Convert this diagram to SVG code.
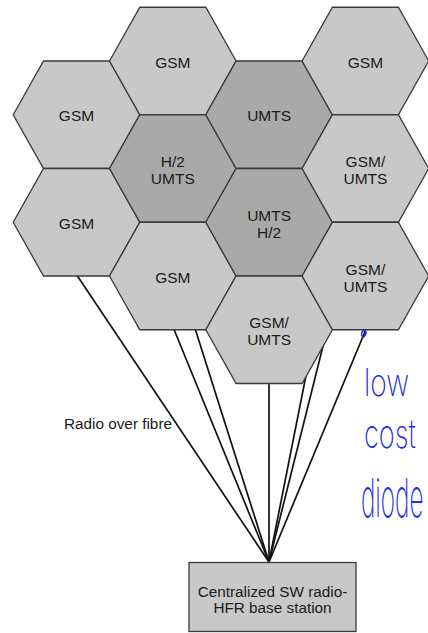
<svg xmlns="http://www.w3.org/2000/svg" xmlns:xlink="http://www.w3.org/1999/xlink" width="428" height="633" viewBox="0 0 428 633">
<style>
.hex{stroke:#3a3a3a;stroke-width:1.3;stroke-linejoin:miter}
.lt{fill:#c8c8c8}
.dk{fill:#a9a9a9}
.lbl{font-family:"Liberation Sans",Arial,sans-serif;font-size:15.5px;fill:#1a1a1a;text-anchor:middle}
.conn line{stroke:#111;stroke-width:1.7}
.box{fill:#c8c8c8;stroke:#3a3a3a;stroke-width:1.3}
.btxt{font-family:"Liberation Sans",Arial,sans-serif;font-size:15.3px;fill:#1a1a1a;text-anchor:middle}
.note{font-family:Inter,"DejaVu Sans",sans-serif;font-weight:200;fill:#1e2ee6}
</style>
<defs>
<polygon id="hexshape" points="-63.3,0 -33,-53.75 33,-53.75 63.3,0 33,53.75 -33,53.75"/>
</defs>
<rect width="428" height="633" fill="#fff"/>
<g id="connectors" class="conn">
<line x1="60" y1="250" x2="269" y2="562"/>
<line x1="162" y1="300" x2="269" y2="562"/>
<line x1="186" y1="300" x2="269" y2="562"/>
<line x1="269" y1="300" x2="269" y2="562"/>
<line x1="317" y1="320" x2="269" y2="562"/>
<line x1="325.75" y1="335" x2="269" y2="562"/>
<line x1="374" y1="310" x2="269" y2="562"/>
</g>
<g id="hex-c0r0"><use href="#hexshape" class="hex lt" x="76.5" y="114.75"/><text class="lbl" x="76.5" y="121.25">GSM</text></g>
<g id="hex-c0r1"><use href="#hexshape" class="hex lt" x="76.5" y="222.25"/><text class="lbl" x="76.5" y="228.75">GSM</text></g>
<g id="hex-c1r0"><use href="#hexshape" class="hex lt" x="172.8" y="61"/><text class="lbl" x="172.8" y="67.5">GSM</text></g>
<g id="hex-c1r1"><use href="#hexshape" class="hex dk" x="172.8" y="168.5"/><text class="lbl" x="172.8" y="167">H/2</text><text class="lbl" x="172.8" y="184">UMTS</text></g>
<g id="hex-c1r2"><use href="#hexshape" class="hex lt" x="172.8" y="276"/><text class="lbl" x="172.8" y="282.5">GSM</text></g>
<g id="hex-c2r0"><use href="#hexshape" class="hex dk" x="269.1" y="114.75"/><text class="lbl" x="269.1" y="121.25">UMTS</text></g>
<g id="hex-c2r1"><use href="#hexshape" class="hex dk" x="269.1" y="222.25"/><text class="lbl" x="269.1" y="220.5">UMTS</text><text class="lbl" x="269.1" y="237.5">H/2</text></g>
<g id="hex-c2r2"><use href="#hexshape" class="hex lt" x="269.1" y="329.75"/><text class="lbl" x="269.1" y="328">GSM/</text><text class="lbl" x="269.1" y="345">UMTS</text></g>
<g id="hex-c3r0"><use href="#hexshape" class="hex lt" x="365.4" y="61"/><text class="lbl" x="365.4" y="67.5">GSM</text></g>
<g id="hex-c3r1"><use href="#hexshape" class="hex lt" x="365.4" y="168.5"/><text class="lbl" x="365.4" y="167">GSM/</text><text class="lbl" x="365.4" y="184">UMTS</text></g>
<g id="hex-c3r2"><use href="#hexshape" class="hex lt" x="365.4" y="276"/><text class="lbl" x="365.4" y="274.5">GSM/</text><text class="lbl" x="365.4" y="291.5">UMTS</text></g>
<g id="label-rof"><text class="btxt" style="text-anchor:start" x="64" y="429">Radio over fibre</text></g>
<g id="base-station">
<rect class="box" x="189" y="562.5" width="167" height="69"/>
<text class="btxt" x="272.5" y="597">Centralized SW radio-</text>
<text class="btxt" x="272.5" y="613">HFR base station</text>
</g>
<g id="annotation">
<path d="M363,338 C360,334 362,330 365,331 C367,332 366,336 362,338" fill="none" stroke="#1e2ee6" stroke-width="1.5"/>
<text class="note" transform="translate(364,396) scale(0.74,1)" font-size="38">low</text>
<text class="note" transform="translate(364,448) scale(0.68,1)" font-size="40">cost</text>
<text class="note" transform="translate(361,517) scale(0.45,1)" font-size="54">diode</text>
</g>
</svg>
